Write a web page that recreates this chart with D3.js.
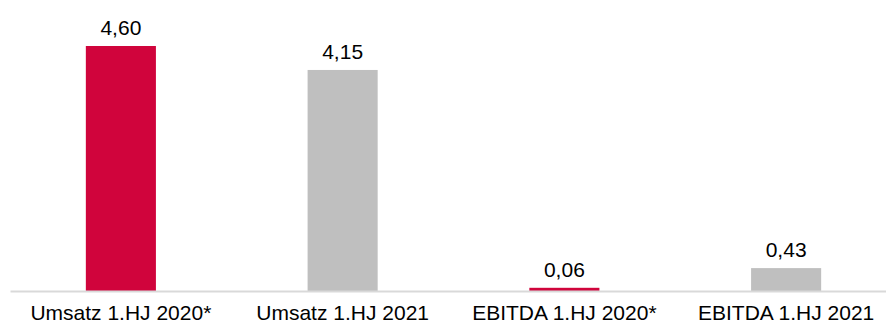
<!DOCTYPE html>
<html>
<head>
<meta charset="utf-8">
<script src="https://cdn.jsdelivr.net/npm/d3@7"></script>
<style>
  html, body { margin: 0; padding: 0; background: #fff; }
  svg { display: block; }
  text { font-family: Arial, "Liberation Sans", sans-serif; }
</style>
</head>
<body>
<svg id="chart" width="886" height="324"></svg>
<script>
// Half-year figures (Mio. EUR)
const categories = ["Umsatz 1.HJ 2020*", "Umsatz 1.HJ 2021", "EBITDA 1.HJ 2020*", "EBITDA 1.HJ 2021"];
const values = [4.60, 4.15, 0.06, 0.43];
const valueLabels = ["4,60", "4,15", "0,06", "0,43"];
const barColors = ["#D0043C", "#BFBFBF", "#D0043C", "#BFBFBF"];

const width = 886, height = 324;
const baseline = 291;

const svg = d3.select("#chart");

const x = d3.scaleBand()
  .domain(categories)
  .range([10, 897])
  .paddingInner(0.684)
  .paddingOuter(0.342);

const y = d3.scaleLinear()
  .domain([0, 4.60])
  .range([baseline, 46]);

// bars
svg.selectAll("rect.bar")
  .data(categories)
  .join("rect")
  .attr("class", "bar")
  .attr("x", d => x(d))
  .attr("width", x.bandwidth())
  .attr("y", (d, i) => y(values[i]))
  .attr("height", (d, i) => baseline - y(values[i]))
  .attr("fill", (d, i) => barColors[i]);

// category axis
const axis = d3.axisBottom(x).tickSize(0).tickPadding(14);
const gx = svg.append("g")
  .attr("transform", `translate(0,${baseline})`)
  .call(axis);
gx.select(".domain")
  .attr("stroke", "#D9D9D9")
  .attr("stroke-width", 2);
gx.selectAll("text")
  .attr("font-size", 21)
  .attr("fill", "#000")
  .attr("font-family", "Arial, 'Liberation Sans', sans-serif");

// value labels
svg.selectAll("text.val")
  .data(categories)
  .join("text")
  .attr("class", "val")
  .attr("x", d => x(d) + x.bandwidth() / 2)
  .attr("y", (d, i) => y(values[i]) - 11)
  .attr("text-anchor", "middle")
  .attr("font-size", 21)
  .attr("fill", "#000")
  .text((d, i) => valueLabels[i]);
</script>
</body>
</html>
